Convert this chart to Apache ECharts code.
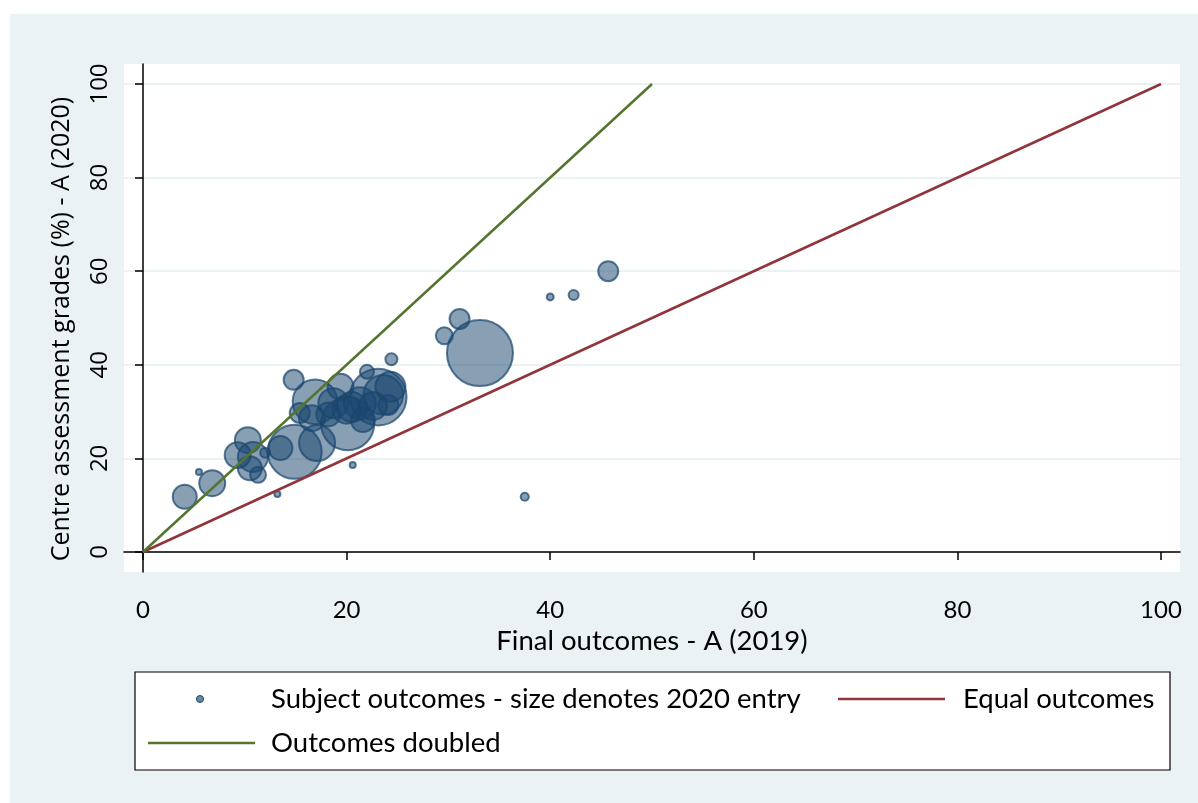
<!DOCTYPE html>
<html>
<head>
<meta charset="utf-8">
<script src="https://cdn.jsdelivr.net/npm/echarts@6/dist/echarts.min.js"></script>
<style>
  html, body { margin: 0; padding: 0; background: #fff; }
  #bg { position: absolute; left: 10px; top: 14px; right: 0; bottom: 0; background: #eaf2f3; }
  #chart { position: absolute; left: 0; top: 0; width: 1198px; height: 803px; }
</style>
</head>
<body>
<div id="bg"></div>
<div id="chart"></div>
<script>
// final outcomes A (2019), %
const outcomes2019 = [4.1, 5.5, 6.8, 13.2, 20.6, 37.5, 40.0, 42.3, 45.7, 33.1, 31.1, 29.6, 24.4, 14.8, 22.0,
  10.3, 9.3, 10.8, 10.5, 11.3, 12.0,
  14.9, 17.1, 13.5, 15.4, 16.9, 20.1, 16.6, 18.7, 20.5, 19.4, 21.6, 23.1, 24.1, 24.3, 21.3,
  20.0, 22.6, 18.2, 23.6];
// centre assessment grades A (2020), %
const cag2020 = [11.8, 17.1, 14.7, 12.4, 18.6, 11.8, 54.5, 54.9, 60.0, 42.5, 49.8, 46.2, 41.2, 36.8, 38.5,
  23.9, 20.7, 20.3, 17.9, 16.5, 21.2,
  21.4, 23.3, 22.2, 29.7, 32.1, 27.4, 28.6, 31.8, 31.0, 35.3, 28.2, 33.1, 31.4, 35.3, 31.8,
  30.4, 31.2, 29.4, 33.6];
// 2020 entry (bubble size)
const entry2020 = [1320, 85, 1550, 85, 85, 150, 110, 230, 920, 10000, 920, 660, 330, 920, 450,
  1550, 1550, 2070, 1320, 590, 230,
  6700, 2980, 1320, 920, 4600, 6500, 1550, 2070, 2070, 1550, 1320, 7400, 920, 2070, 2360,
  1800, 1800, 1320, 3600];

const equalLine = [[0, 0], [100, 100]];
const doubledLine = [[0, 0], [50, 100]];
const tickValues = [0, 20, 40, 60, 80, 100];

const navy = '#1a476f';
const maroon = '#90353b';
const green = '#55752f';

let points = outcomes2019.map((x, i) => [x, cag2020[i], entry2020[i]]);
// big ones first so the small bubbles stay visible
points.sort((a, b) => b[2] - a[2]);

const chart = echarts.init(document.getElementById('chart'));
chart.setOption({
  backgroundColor: 'transparent',
  animation: false,
  grid: {
    left: 124, right: 18, top: 64, bottom: 231,
    show: true, backgroundColor: '#fff', borderWidth: 0
  },
  xAxis: {
    type: 'value',
    min: -1.866, max: 101.866,
    name: 'Final outcomes - A (2019)',
    nameLocation: 'middle',
    nameGap: 50,
    nameTextStyle: { fontFamily: 'Lato', fontSize: 27.5, color: '#000' },
    axisLine: { show: true, lineStyle: { color: '#000', width: 1.5 } },
    axisTick: { show: true, length: 8, customValues: tickValues, lineStyle: { color: '#000', width: 1.5 } },
    axisLabel: { customValues: tickValues, margin: 26, fontFamily: 'Lato', fontSize: 24, color: '#000' },
    splitLine: { show: false }
  },
  yAxis: {
    type: 'value',
    min: -4.274, max: 104.274,
    name: 'Centre assessment grades (%) - A (2020)',
    nameLocation: 'middle',
    nameRotate: 90,
    nameGap: 50,
    nameTextStyle: { fontFamily: 'Open Sans', fontSize: 25, color: '#000', padding: [0, 22, 0, 0] },
    axisLine: { show: true, lineStyle: { color: '#000', width: 1.5 } },
    axisTick: { show: true, length: 8, customValues: tickValues, lineStyle: { color: '#000', width: 1.5 } },
    axisLabel: { customValues: tickValues, rotate: 90, margin: 12, fontFamily: 'Open Sans', fontSize: 24, color: '#000' },
    splitLine: { show: true, lineStyle: { color: '#eaf2f3', width: 2 } }
  },
  series: [
    {
      name: 'Subject outcomes - size denotes 2020 entry',
      type: 'scatter',
      data: points,
      symbolSize: (v) => Math.sqrt(v[2]) * 0.66,
      itemStyle: { color: 'rgba(26,71,111,0.65)', borderColor: 'rgba(26,71,111,0.9)', borderWidth: 2 },
      z: 2
    },
    {
      name: 'Equal outcomes',
      type: 'line',
      data: equalLine,
      showSymbol: false,
      lineStyle: { color: maroon, width: 2.5 },
      z: 3
    },
    {
      name: 'Outcomes doubled',
      type: 'line',
      data: doubledLine,
      showSymbol: false,
      lineStyle: { color: green, width: 2.5 },
      z: 3
    }
  ],
  // legend box laid out like the original
  graphic: [
    { type: 'rect', shape: { x: 135, y: 672, width: 1035, height: 98 },
      style: { fill: '#fff', stroke: '#000', lineWidth: 1.2 } },
    { type: 'circle', shape: { cx: 200, cy: 699, r: 3.5 },
      style: { fill: 'rgba(26,71,111,0.65)', stroke: navy, lineWidth: 1 } },
    { type: 'text', x: 271, y: 699,
      style: { text: 'Subject outcomes - size denotes 2020 entry', fontFamily: 'Lato', fontSize: 27.5, fill: '#000', verticalAlign: 'middle' } },
    { type: 'line', shape: { x1: 838, y1: 699, x2: 945, y2: 699 },
      style: { stroke: maroon, lineWidth: 2.5 } },
    { type: 'text', x: 963, y: 699,
      style: { text: 'Equal outcomes', fontFamily: 'Lato', fontSize: 27.5, fill: '#000', verticalAlign: 'middle' } },
    { type: 'line', shape: { x1: 148, y1: 743, x2: 255, y2: 743 },
      style: { stroke: green, lineWidth: 2.5 } },
    { type: 'text', x: 271, y: 743,
      style: { text: 'Outcomes doubled', fontFamily: 'Lato', fontSize: 27.5, fill: '#000', verticalAlign: 'middle' } }
  ]
});
</script>
</body>
</html>
